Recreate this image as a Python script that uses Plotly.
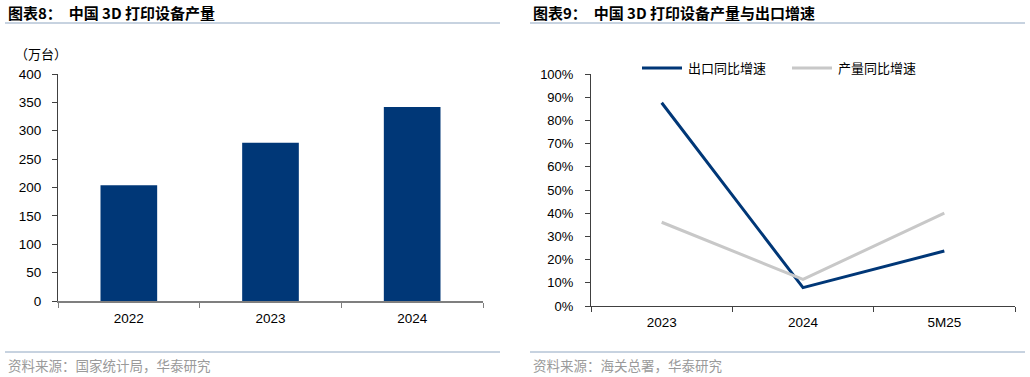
import plotly.graph_objects as go

# Left chart data
bar_years = ["2022", "2023", "2024"]
bar_output = [204, 279, 342]  # 万台

# Right chart data
line_periods = ["2023", "2024", "5M25"]
export_growth = [87.6, 7.9, 23.7]   # %
output_growth = [36.1, 11.5, 40.0]  # %

W, H = 1030, 377
NAVY = "#003777"
GRAY = "#c8c8c8"
FONT = "Liberation Sans, Noto Sans CJK SC, Arial, sans-serif"
CJK = "Noto Sans CJK SC, sans-serif"

def px(x):
    return x / W

def py(y):
    return 1 - y / H

fig = go.Figure()

fig.add_trace(go.Bar(
    x=bar_years, y=bar_output, marker=dict(color=NAVY, line=dict(width=0)),
    xaxis="x", yaxis="y", showlegend=False, width=0.4,
))

fig.add_trace(go.Scatter(
    x=line_periods, y=export_growth, mode="lines", name="出口同比增速",
    line=dict(color=NAVY, width=3), xaxis="x2", yaxis="y2", showlegend=False,
))
fig.add_trace(go.Scatter(
    x=line_periods, y=output_growth, mode="lines", name="产量同比增速",
    line=dict(color=GRAY, width=3), xaxis="x2", yaxis="y2", showlegend=False,
))

def axis_common(size, standoff):
    return dict(showgrid=False, zeroline=False, ticks="outside", ticklen=5,
                automargin=False, ticklabelstandoff=standoff,
                tickfont=dict(family=FONT, size=size, color="#000000"))

fig.update_layout(
    width=W, height=H,
    margin=dict(l=0, r=0, t=0, b=0, autoexpand=False),
    plot_bgcolor="white", paper_bgcolor="white",
    xaxis=dict(domain=[px(58), px(483)], anchor="y", type="category",
               range=[-0.5, 2.5],
               showline=True, linecolor="#7f7f7f", linewidth=1.5,
               tickson="boundaries", tickcolor="#7f7f7f", **axis_common(13.5, 4)),
    yaxis=dict(domain=[py(301), py(74)], anchor="x", range=[0, 400], dtick=50,
               showline=True, linecolor="#404040", linewidth=1,
               tickcolor="#404040", **axis_common(13.5, 8)),
    xaxis2=dict(domain=[px(591), px(1015)], anchor="y2", type="category",
                range=[-0.5, 2.5],
                showline=True, linecolor="#404040", linewidth=1,
                tickson="boundaries", tickcolor="#404040", **axis_common(13.5, 4)),
    yaxis2=dict(domain=[py(306), py(74)], anchor="x2", range=[0, 100], dtick=10,
                ticksuffix="%", showline=True, linecolor="#404040", linewidth=1,
                tickcolor="#404040", **axis_common(13, 9)),
)

shapes = []
annotations = []

# Titles and rules
for x0, x1, title, src in [
    (5, 500, "图表8：  中国 3D 打印设备产量", "资料来源：国家统计局，华泰研究"),
    (530, 1025, "图表9：  中国 3D 打印设备产量与出口增速", "资料来源：海关总署，华泰研究"),
]:
    shapes.append(dict(type="line", xref="paper", yref="paper",
                       x0=px(x0), x1=px(x1), y0=py(23), y1=py(23),
                       line=dict(color="#8fa6c1", width=1)))
    shapes.append(dict(type="line", xref="paper", yref="paper",
                       x0=px(x0), x1=px(x1), y0=py(352), y1=py(352),
                       line=dict(color="#8fa6c1", width=1)))
    annotations.append(dict(text="<b>" + title + "</b>", xref="paper", yref="paper",
                            x=px(x0 + 1), y=py(13), xanchor="left", yanchor="middle",
                            showarrow=False, font=dict(family=CJK, size=15, color="#000000")))
    annotations.append(dict(text=src, xref="paper", yref="paper",
                            x=px(x0 + 1), y=py(365), xanchor="left", yanchor="middle",
                            showarrow=False, font=dict(family=CJK, size=13.5, color="#9a9a9a")))

# Unit label
annotations.append(dict(text="（万台）", xref="paper", yref="paper",
                        x=px(13), y=py(53), xanchor="left", yanchor="middle",
                        showarrow=False, font=dict(family=CJK, size=13, color="#000000")))

# Legend for right chart
for lx, color, label in [(642, NAVY, "出口同比增速"), (792, GRAY, "产量同比增速")]:
    shapes.append(dict(type="line", xref="paper", yref="paper",
                       x0=px(lx), x1=px(lx + 40), y0=py(68), y1=py(68),
                       line=dict(color=color, width=3)))
    annotations.append(dict(text=label, xref="paper", yref="paper",
                            x=px(lx + 44), y=py(68), xanchor="left", yanchor="middle",
                            showarrow=False, font=dict(family=CJK, size=13, color="#000000")))

fig.update_layout(shapes=shapes, annotations=annotations)

fig.write_html(
    "out.html",
    config={"displayModeBar": False},
    post_script="document.body.style.margin='0';document.body.style.overflow='hidden';",
)
